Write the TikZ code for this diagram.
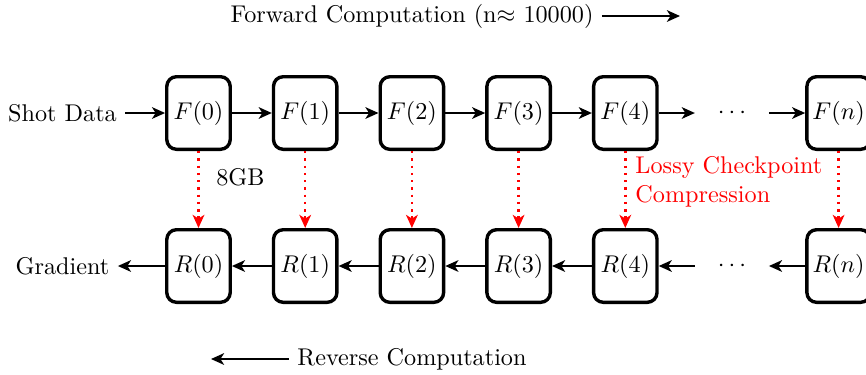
\documentclass[tikz,border=0pt]{standalone}
\usetikzlibrary{arrows.meta}
\begin{document}
\begin{tikzpicture}[x=0.4132pt,y=-0.4132pt,
  stage/.style={draw,line width=1.4pt,rounded corners=4pt,minimum width=26.2pt,minimum height=30pt,inner sep=1pt},
  gap/.style={minimum width=30.2pt,minimum height=30.2pt,inner sep=1pt},
  flow/.style={-{Stealth[length=5.4pt,width=4.8pt,inset=1.5pt]},line width=0.9pt},
  ckpt/.style={-{Stealth[length=5.4pt,width=4.8pt,inset=1.5pt]},line width=1pt,dotted,red},
  lbl/.style={inner sep=3.33pt}]
\clip (0,0) rectangle (866,374);
% forward row
\node[lbl] (shot) at (62.5,113) {Shot Data};
\node[stage] (F0) at (198.5,113) {$F(0)$};
\node[stage] (F1) at (305.2,113) {$F(1)$};
\node[stage] (F2) at (411.9,113) {$F(2)$};
\node[stage] (F3) at (518.6,113) {$F(3)$};
\node[stage] (F4) at (625.3,113) {$F(4)$};
\node[gap] (Fd) at (731.9,113) {$\cdots$};
\node[stage] (Fn) at (838.6,113) {$F(n)$};
% reverse row
\node[lbl] (grad) at (62.5,266) {Gradient};
\node[stage] (R0) at (198.5,266) {$R(0)$};
\node[stage] (R1) at (305.2,266) {$R(1)$};
\node[stage] (R2) at (411.9,266) {$R(2)$};
\node[stage] (R3) at (518.6,266) {$R(3)$};
\node[stage] (R4) at (625.3,266) {$R(4)$};
\node[gap] (Rd) at (731.9,266) {$\cdots$};
\node[stage] (Rn) at (838.6,266) {$R(n)$};
% forward arrows
\draw[flow] (shot) -- (F0);
\draw[flow] (F0) -- (F1);
\draw[flow] (F1) -- (F2);
\draw[flow] (F2) -- (F3);
\draw[flow] (F3) -- (F4);
\draw[flow] (F4) -- (Fd);
\draw[flow] (Fd) -- (Fn);
% reverse arrows
\draw[flow] (R0) -- (grad);
\draw[flow] (R1) -- (R0);
\draw[flow] (R2) -- (R1);
\draw[flow] (R3) -- (R2);
\draw[flow] (R4) -- (R3);
\draw[flow] (Rd) -- (R4);
\draw[flow] (Rn) -- (Rd);
% checkpoints
\draw[ckpt] (F0) -- (R0);
\draw[ckpt] (F1) -- (R1);
\draw[ckpt] (F2) -- (R2);
\draw[ckpt] (F3) -- (R3);
\draw[ckpt] (F4) -- (R4);
\draw[ckpt] (Fn) -- (Rn);
\node[lbl] (gb) at (240.5,177) {8GB};
\node[red,align=left,inner sep=0pt,anchor=west] (lossy) at (635,182) {Lossy Checkpoint\\Compression};
% direction labels
\node[lbl] (fwd) at (412,16) {Forward Computation (n$\approx$ 10000)};
\coordinate (fwdend) at (680,16);
\draw[flow] (fwd) -- (fwdend);
\node[lbl] (rev) at (412,359) {Reverse Computation};
\coordinate (revend) at (211,359);
\draw[flow] (rev) -- (revend);
\end{tikzpicture}
\end{document}
